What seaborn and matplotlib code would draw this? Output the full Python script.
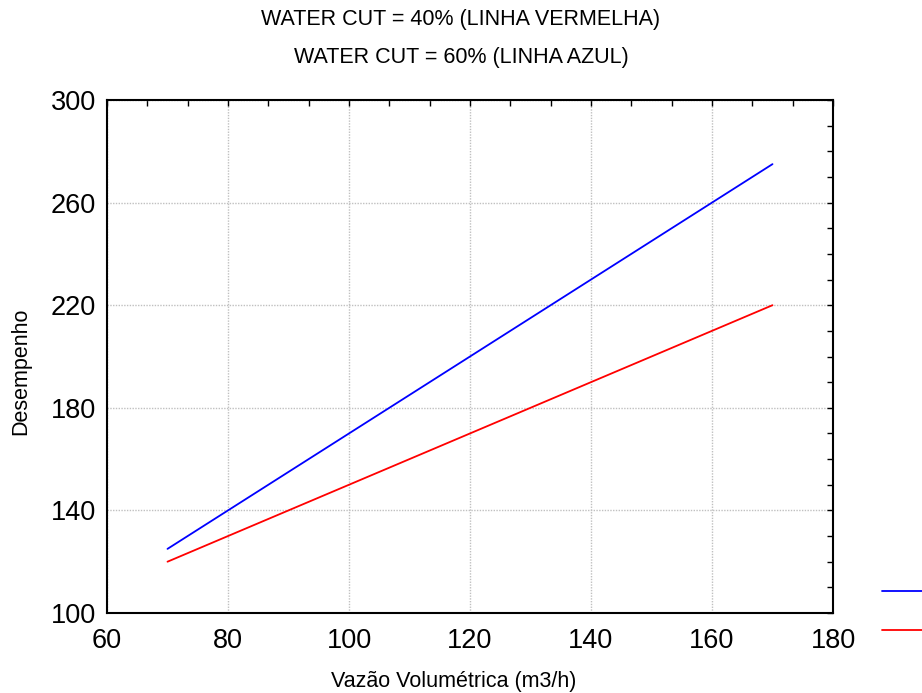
import matplotlib
matplotlib.use("Agg")
import matplotlib.pyplot as plt
import seaborn as sns
import pandas as pd
from matplotlib.ticker import AutoMinorLocator
from matplotlib.lines import Line2D

vazao = [70, 170]
desemp_40 = [120, 220]   # red
desemp_60 = [125, 275]   # blue
x_ticks = [60, 80, 100, 120, 140, 160, 180]
y_ticks = [100, 140, 180, 220, 260, 300]
title_lines = ["WATER CUT = 40% (LINHA VERMELHA)", "WATER CUT = 60% (LINHA AZUL)"]

sns.set_theme(style="white")
plt.rcParams['font.family'] = ['Liberation Sans', 'DejaVu Sans']
for k in ["text.color", "axes.labelcolor", "xtick.color", "ytick.color"]:
    plt.rcParams[k] = "black"

df = pd.DataFrame({
    "x": vazao + vazao,
    "y": desemp_60 + desemp_40,
    "s": ["60%"] * len(vazao) + ["40%"] * len(vazao),
})

fig = plt.figure(figsize=(9.22, 6.93), dpi=100)
ax = fig.add_axes([107/922, 1-613/693, (833-107)/922, (613-100)/693])

sns.lineplot(data=df, x="x", y="y", hue="s", palette={"60%": "#0000ff", "40%": "#ff0000"},
             ax=ax, legend=False, linewidth=1.3)

ax.set_xlim(60, 180)
ax.set_ylim(100, 300)
ax.set_xticks(x_ticks)
ax.set_yticks(y_ticks)
ax.xaxis.set_minor_locator(AutoMinorLocator(3))
ax.yaxis.set_minor_locator(AutoMinorLocator(4))
ax.tick_params(which="both", direction="in", top=True, right=True, color="black")
ax.tick_params(which="major", length=4, width=1, labelsize=19.5)
ax.tick_params(axis="x", which="major", pad=11)
ax.tick_params(axis="y", which="major", pad=8)
ax.tick_params(which="minor", length=4, width=1)
ax.grid(True, which="major", color="#c0c0c0", linestyle=(0, (1, 1)), linewidth=1)
for sp in ax.spines.values():
    sp.set_color("black")
    sp.set_linewidth(1.5)

ax.set_xlabel("Vazão Volumétrica (m3/h)", fontsize=15.5)
ax.set_ylabel("Desempenho", fontsize=15.5)
ax.xaxis.set_label_coords((454 - 107) / 726, -(671 - 613) / 513)
ax.yaxis.set_label_coords(-(107 - 31) / 726, (613 - 371) / 513)

fig.text(0.5, 1-20/693, title_lines[0], ha="center", va="center", fontsize=15.5)
fig.text(0.5, 1-57/693, title_lines[1], ha="center", va="center", fontsize=15.5)

handles = [Line2D([], [], color="#0000ff", lw=1.3), Line2D([], [], color="#ff0000", lw=1.3)]
fig.legend(handles, ["", ""], loc="upper left", bbox_to_anchor=(882/922, 1-585/693),
           frameon=False, handlelength=3.2, labelspacing=1.65, handletextpad=0,
           borderaxespad=0, borderpad=0, fontsize=11)

fig.savefig("out.png", dpi=100)
